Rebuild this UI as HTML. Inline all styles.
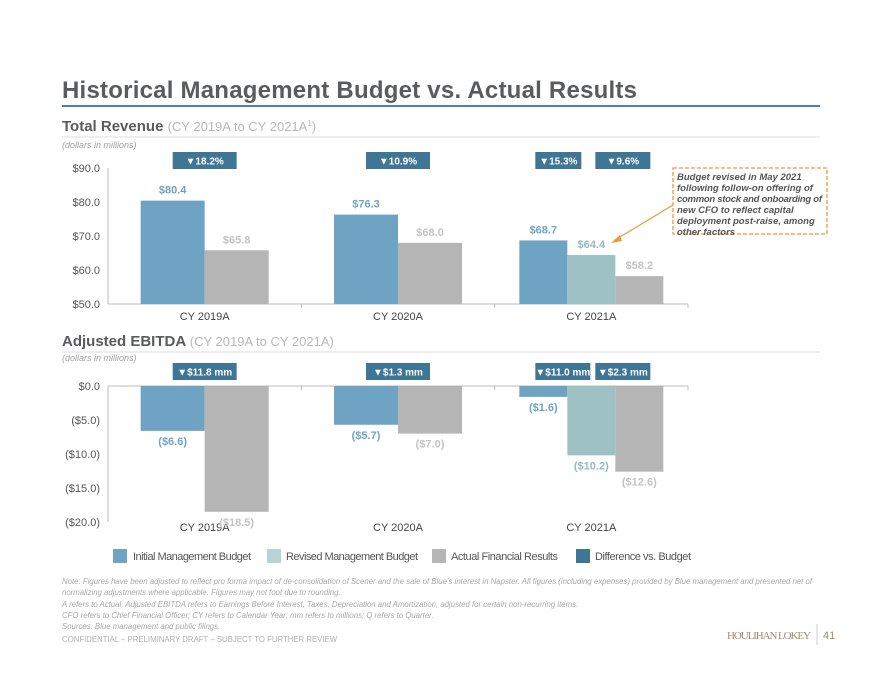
<!DOCTYPE html>
<html><head><meta charset="utf-8"><style>
body{margin:0;background:#fff;font-family:"Liberation Sans",sans-serif}
svg text{font-family:"Liberation Sans",sans-serif}
</style></head><body>
<svg width="880" height="680" viewBox="0 0 880 680">
<text x="62" y="98" font-size="24" font-weight="bold" fill="#5a5b5d" textLength="575">Historical Management Budget vs. Actual Results</text>
<line x1="62" y1="106" x2="820" y2="106" stroke="#4f80a6" stroke-width="2"/>
<text x="62" y="131" font-size="15" font-weight="bold" fill="#5a5b5d">Total Revenue <tspan font-weight="normal" fill="#b8b8b8" font-size="13">(CY 2019A to CY 2021A<tspan font-size="8" dy="-5">1</tspan><tspan dy="5">)</tspan></tspan></text>
<line x1="62" y1="137" x2="820" y2="137" stroke="#dcdcdc"/>
<text x="62" y="148" font-size="9" font-style="italic" fill="#a0a0a0">(dollars in millions)</text>
<text x="62" y="346" font-size="15" font-weight="bold" fill="#5a5b5d">Adjusted EBITDA <tspan font-weight="normal" fill="#b8b8b8" font-size="13">(CY 2019A to CY 2021A)</tspan></text>
<line x1="62" y1="352" x2="820" y2="352" stroke="#dcdcdc"/>
<text x="62" y="361" font-size="9" font-style="italic" fill="#a0a0a0">(dollars in millions)</text>
<g id="rev"></g><g id="ebit"></g>
<rect x="673" y="168" width="154" height="66" fill="none" stroke="#f0963c" stroke-width="1.3" stroke-dasharray="4,2"/>
<text font-size="9.5" font-weight="bold" font-style="italic" fill="#555"><tspan x="677" y="180">Budget revised in May 2021</tspan><tspan x="677" y="191">following follow-on offering of</tspan><tspan x="677" y="202" textLength="145">common stock and onboarding of</tspan><tspan x="677" y="213">new CFO to reflect capital</tspan><tspan x="677" y="224">deployment post-raise, among</tspan><tspan x="677" y="235">other factors</tspan></text>
<line x1="673" y1="205" x2="615" y2="240" stroke="#f0963c" stroke-width="1.2"/>
<polygon points="611,243 620,235 622,241" fill="#f0963c"/>
<g id="legend" font-size="11" fill="#555">
<rect x="113" y="549" width="14" height="14" fill="#6fa3c3"/><text x="133" y="560" textLength="118">Initial Management Budget</text>
<rect x="267" y="549" width="14" height="14" fill="#b6d3d6"/><text x="286" y="560" textLength="132">Revised Management Budget</text>
<rect x="432" y="549" width="14" height="14" fill="#b5b5b5"/><text x="451" y="560" textLength="107">Actual Financial Results</text>
<rect x="576" y="549" width="14" height="14" fill="#3f7696"/><text x="595" y="560" textLength="96">Difference vs. Budget</text>
</g>
<g font-size="7.8" font-style="italic" fill="#a8a8a8">
<text x="62" y="584" textLength="750">Note: Figures have been adjusted to reflect pro forma impact of de-consolidation of Scener and the sale of Blue’s interest in Napster. All figures (including expenses) provided by Blue management and presented net of</text>
<text x="62" y="595">normalizing adjustments where applicable. Figures may not foot due to rounding.</text>
<text x="62" y="607">A refers to Actual; Adjusted EBITDA refers to Earnings Before Interest, Taxes, Depreciation and Amortization, adjusted for certain non-recurring items.</text>
<text x="62" y="618">CFO refers to Chief Financial Officer; CY refers to Calendar Year; mm refers to millions; Q refers to Quarter.</text>
<text x="62" y="629">Sources: Blue management and public filings.</text>
</g>
<text x="62" y="642" font-size="7.8" fill="#b0b0b0">CONFIDENTIAL – PRELIMINARY DRAFT – SUBJECT TO FURTHER REVIEW</text>
<text x="727" y="639" font-size="11" style="font-family:'Liberation Serif',serif" fill="#a08c6a" textLength="84">HOULIHAN LOKEY</text>
<line x1="817" y1="624" x2="817" y2="645" stroke="#ccc"/>
<text x="823" y="639" font-size="11" fill="#a08c6a">41</text>
</svg>
<script>
const NS="http://www.w3.org/2000/svg";
const categories=["CY 2019A","CY 2020A","CY 2021A"];
const revInitial=[80.4,76.3,68.7];
const revRevised=[null,null,64.4];
const revActual=[65.8,68.0,58.2];
const revBadges=[["▼18.2%"],["▼10.9%"],["▼15.3%","▼9.6%"]];
const revTicks=[90,80,70,60,50];
const ebInitial=[-6.6,-5.7,-1.6];
const ebRevised=[null,null,-10.2];
const ebActual=[-18.5,-7.0,-12.6];
const ebBadges=[["▼$11.8 mm"],["▼$1.3 mm"],["▼$11.0 mm","▼$2.3 mm"]];
const ebTicks=[0,-5,-10,-15,-20];
const COL={i:"#6fa3c3",r:"#9ec2c4",a:"#b5b5b5"};
function el(p,t,a,txt){const e=document.createElementNS(NS,t);for(const k in a)e.setAttribute(k,a[k]);if(txt!==undefined)e.textContent=txt;p.appendChild(e);return e;}
function fmt(v){const s="$"+Math.abs(v).toFixed(1);return v<0?"("+s+")":s;}
function chart(g,cfg){
  const x0=108,x1=688,gw=(x1-x0)/3;
  const y=v=>cfg.y0+(cfg.top-v)*cfg.k;
  cfg.ticks.forEach(t=>{const e=el(g,"text",{x:100,y:y(t)+4,"font-size":11,fill:"#555","text-anchor":"end"},fmt(t));
    
    });
  const ax=el(g,"line",{x1:x0,y1:y(cfg.ticks[0]),x2:x0,y2:y(cfg.ticks[cfg.ticks.length-1]),stroke:"#bbb"});
  
  
  const base=cfg.base;
  const xa=el(g,"line",{x1:x0,y1:y(base),x2:x1,y2:y(base),stroke:"#bbb"});
  
  
  categories.forEach((c,i)=>{
    const cx=x0+gw*(i+0.5);
    const tk=el(g,"line",{x1:x0+gw*(i+1),y1:y(base),x2:x0+gw*(i+1),y2:y(base)+4,stroke:"#bbb"});
    
    
    const lb=el(g,"text",{x:cx,y:cfg.labY,"font-size":11,fill:"#444","text-anchor":"middle"},c);
    
    
    const series=[["i",cfg.ini[i]],["r",cfg.rev[i]],["a",cfg.act[i]]].filter(s=>s[1]!==null);
    const bw=series.length===3?48:64;
    let bx=cx-bw*series.length/2;
    series.forEach(([key,v])=>{
      const ya=y(v),yb=y(base);
      const r=el(g,"rect",{x:bx,y:Math.min(ya,yb),width:bw,height:Math.abs(yb-ya),fill:COL[key]});
      
      
      const lc=key==="i"?"#6fa3c3":key==="r"?"#8fbcbe":"#c4c4c4";
      const ly=v>=base?ya-7:ya+14;
      const t=el(g,"text",{x:bx+bw/2,y:ly,"font-size":11,"font-weight":"bold",fill:lc,"text-anchor":"middle"},fmt(v));
      
      
      bx+=bw;
    });
    const b=cfg.badges[i];
    const bws=b.length===2?cfg.pairW:[64];
    const starts=b.length===2?[cx-56,cx+4]:[cx-32];
    b.forEach((txt,j)=>{
      const r=el(g,"rect",{x:starts[j],y:cfg.by,width:bws[j],height:17,fill:"#3f7696"});
      
      
      const t=el(g,"text",{x:starts[j]+bws[j]/2,y:cfg.by+12.5,"font-size":10,"font-weight":"bold",fill:"#fff","text-anchor":"middle"},txt);
      
      
    });
  });
}
chart(document.getElementById("rev"),{y0:168,top:90,k:3.4,ticks:revTicks,base:50,labY:320,ini:revInitial,rev:revRevised,act:revActual,badges:revBadges,by:152,pairW:[46,55]});
chart(document.getElementById("ebit"),{y0:386,top:0,k:6.8,ticks:ebTicks,base:0,labY:531,ini:ebInitial,rev:ebRevised,act:ebActual,badges:ebBadges,by:363,pairW:[55,55]});
</script>
</body></html>
